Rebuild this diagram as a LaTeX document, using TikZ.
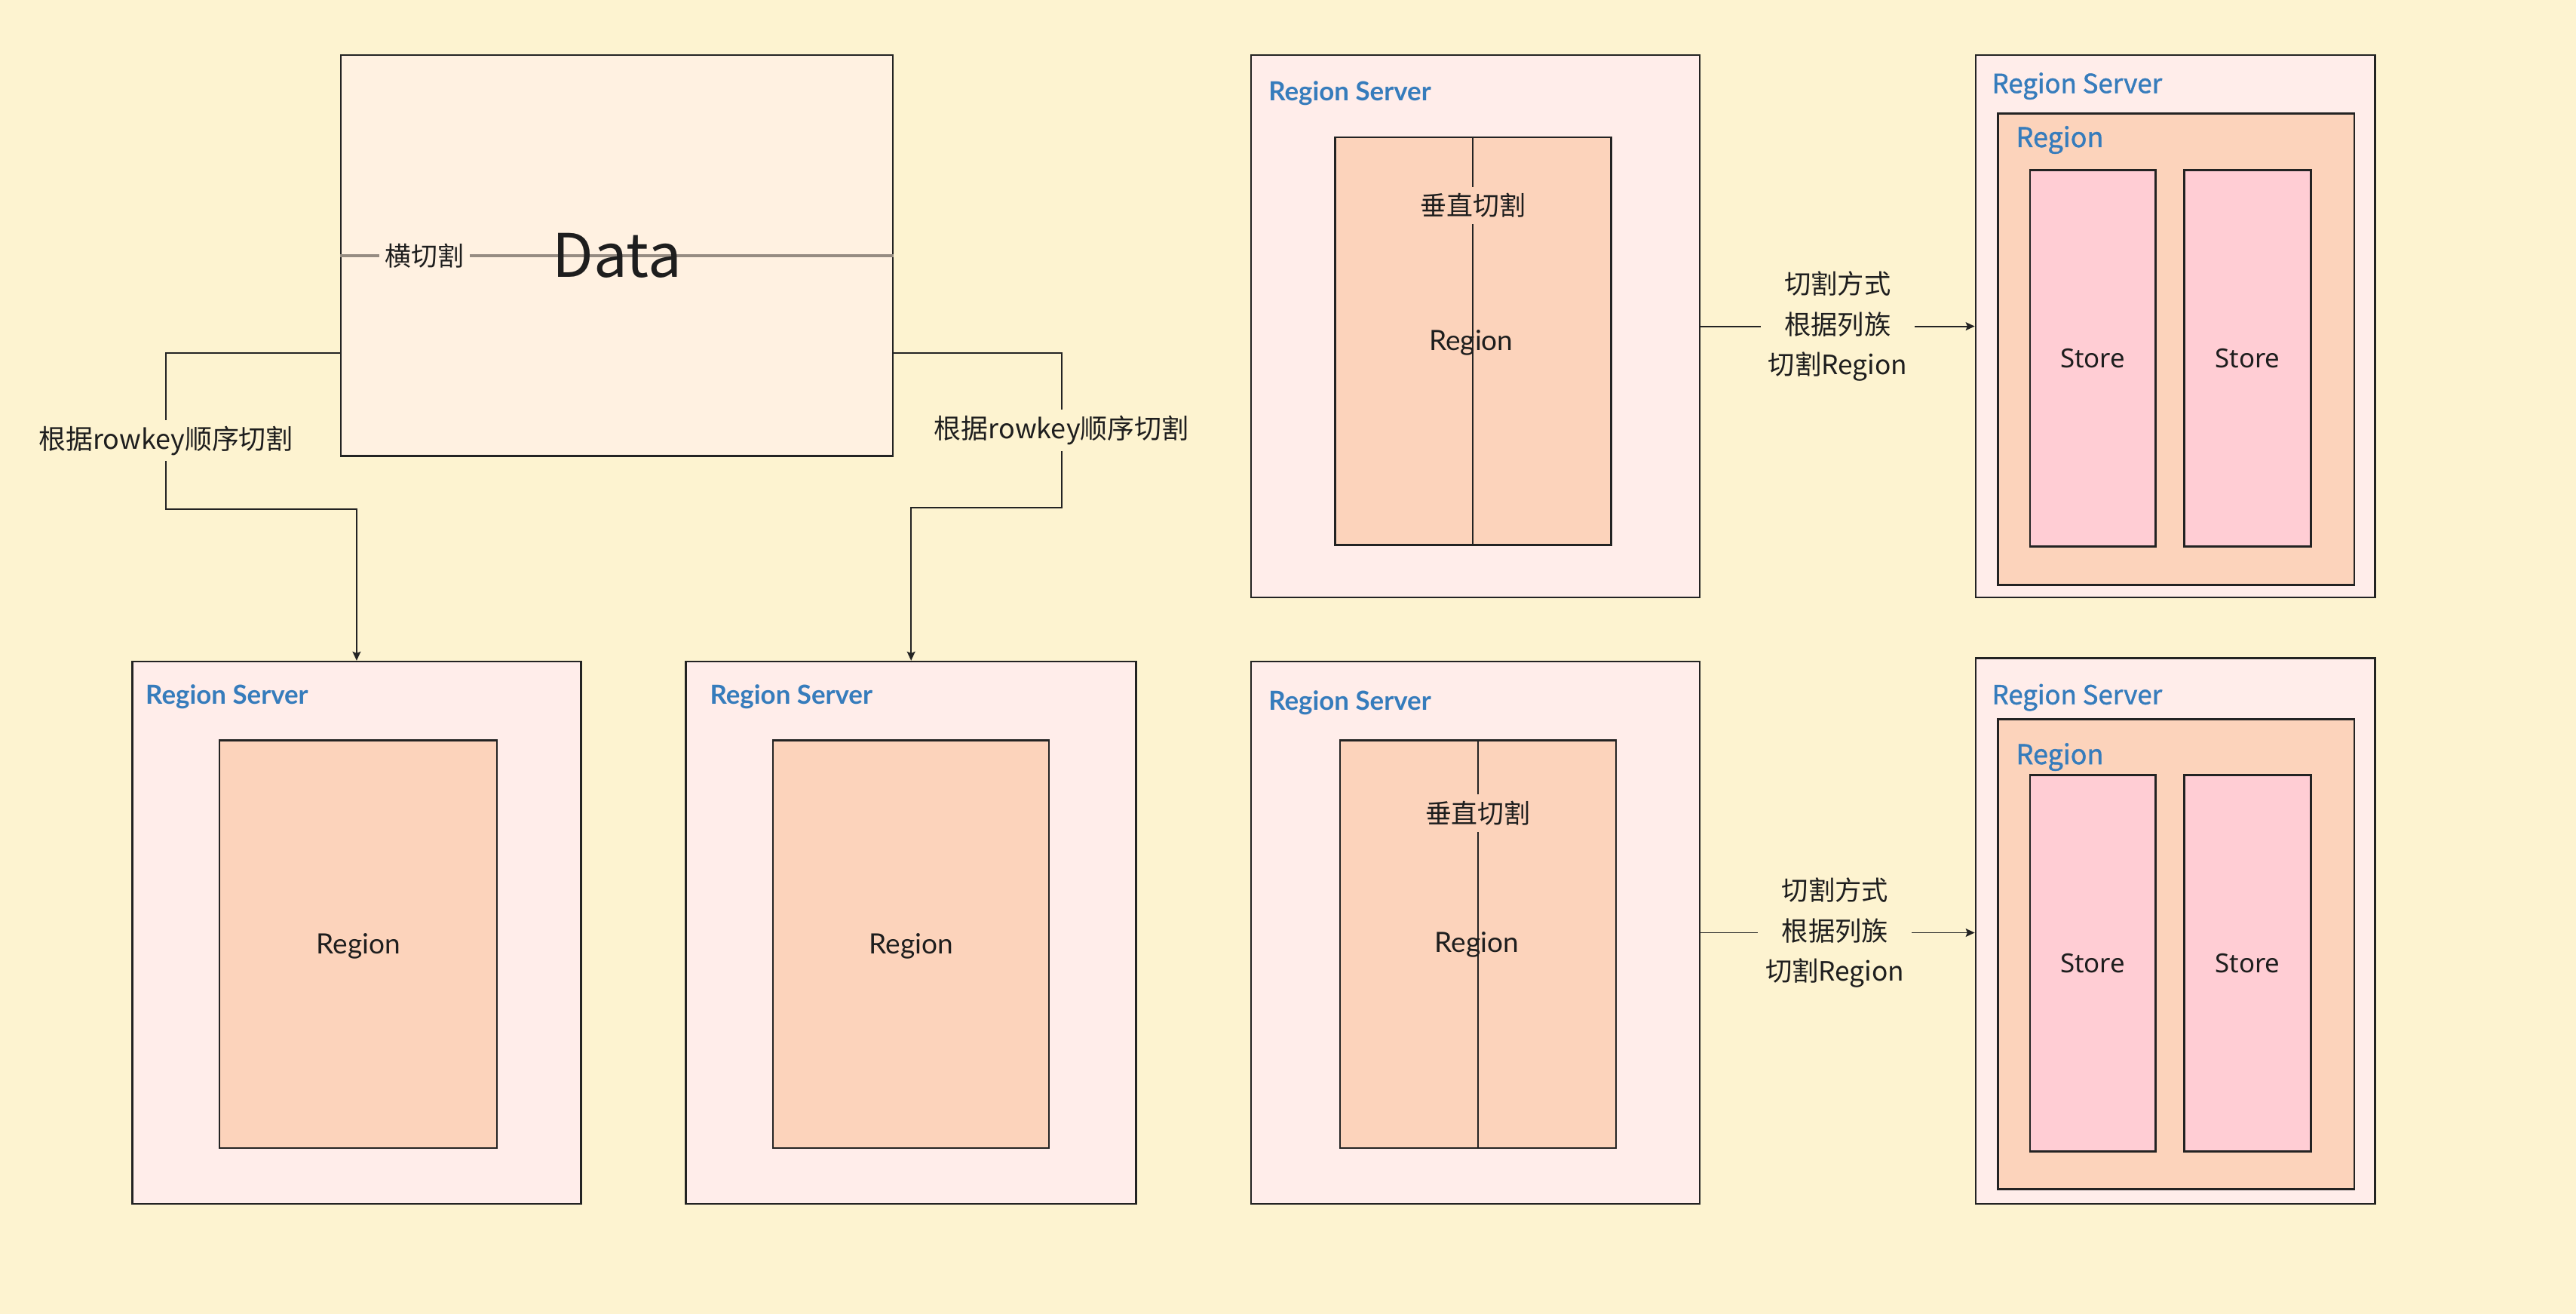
\documentclass[tikz,border=0pt]{standalone}
\usepackage{fontspec}
\setmainfont{Noto Sans CJK SC}
\newfontfamily\lato{Lato}
\newfontfamily\notosans{Noto Sans}
\newfontfamily\notob[FakeBold=1.2]{Noto Sans CJK SC}
\usetikzlibrary{arrows.meta}
\definecolor{bg}{RGB}{253,243,208}
\definecolor{datafill}{RGB}{255,241,225}
\definecolor{rsfill}{RGB}{255,237,234}
\definecolor{regfill}{RGB}{252,211,187}
\definecolor{storefill}{RGB}{255,205,212}
\definecolor{titleblue}{RGB}{54,124,188}
\definecolor{txt}{RGB}{30,30,30}
\definecolor{boxline}{RGB}{35,35,35}
\definecolor{splitgray}{RGB}{150,140,130}
\tikzset{
  box/.style={draw=boxline, line width=1.15pt, anchor=north west, inner sep=0pt},
  databox/.style={box, fill=datafill},
  rsbox/.style={box, fill=rsfill},
  regbox/.style={box, fill=regfill},
  storebox/.style={box, fill=storefill},
  conn/.style={draw=boxline, line width=0.85pt},
  arr/.style={conn, -{Stealth[length=5.5pt,width=5pt,inset=1pt]}},
  cjklbl/.style={text=txt, font=\fontsize{16.5}{20}\selectfont, inner sep=3.5pt},
  conlbl/.style={cjklbl, fill=bg},
  multilbl/.style={text=txt, fill=bg, align=center, font=\fontsize{16.2}{24.5}\selectfont, inner sep=4.5pt},
  ltitle/.style={anchor=base west, text=titleblue, inner sep=0pt, font=\lato\bfseries\fontsize{16}{19}\selectfont},
  ntitle/.style={anchor=base west, text=titleblue, inner sep=0pt, font=\notob\fontsize{16}{19}\selectfont},
  nregion/.style={anchor=base west, text=titleblue, inner sep=0pt, font=\notob\fontsize{16.5}{19}\selectfont},
  reglbl/.style={anchor=base, text=txt, inner sep=0pt, font=\lato\fontsize{17}{19}\selectfont},
  storelbl/.style={anchor=base, text=txt, inner sep=0pt, font=\notosans\fontsize{16}{19}\selectfont},
  vsplit/.style={draw=boxline, line width=0.85pt},
}
\begin{document}
\begin{tikzpicture}[x=1pt,y=-1pt]
\useasboundingbox (0,0) rectangle (1568,799.6);
\fill[bg] (0,0) rectangle (1568,799.6);

% ---------- Data box ----------
\node[databox, minimum width=336pt, minimum height=244pt] (data) at (207,33) {};
\draw[draw=splitgray, line width=2.2pt] (data.west) -- node[pos=0.152, fill=datafill, cjklbl, font=\fontsize{16}{20}\selectfont] (hq) {横切割} (data.east);
\node[text=txt, inner sep=0pt, font=\fontsize{36.5}{40}\selectfont] (datat) at (data.center) {Data};

% ---------- bottom-left region servers ----------
\node[rsbox, minimum width=273pt, minimum height=330pt] (rs1) at (80,402) {};
\node[regbox, minimum width=169pt, minimum height=248pt] (reg1) at (133,450) {};
\node[ltitle] (t1) at (88.5,428.4) {Region Server};
\node[reglbl] (r1) at ([yshift=-6pt]reg1.center) {Region};

\node[rsbox, minimum width=274pt, minimum height=330pt] (rs2) at (417,402) {};
\node[regbox, minimum width=168pt, minimum height=248pt] (reg2) at (470,450) {};
\node[ltitle] (t2) at (432,428.4) {Region Server};
\node[reglbl] (r2) at ([yshift=-6pt]reg2.center) {Region};

% ---------- connectors from Data ----------
\draw[arr] ([yshift=-59.3pt]data.west) -- ++(-106,0)
  -- node[conlbl, pos=0.56] (lc1) {根据rowkey顺序切割} ++(0,95) -| (rs1.north);
\draw[arr] ([yshift=-59.3pt]data.east) -- ++(102,0)
  -- node[conlbl, pos=0.5] (lc2) {根据rowkey顺序切割} ++(0,94) -| (rs2.north);

% ---------- vertical split servers ----------
\node[rsbox, minimum width=273pt, minimum height=330pt] (rs3) at (761,33) {};
\node[regbox, minimum width=168pt, minimum height=248pt] (reg3) at (812,83) {};
\node[ltitle] (t3) at (772,61.5) {Region Server};
\draw[vsplit] (reg3.north) -- node[pos=0.169, fill=regfill, cjklbl, font=\fontsize{16}{20}\selectfont, inner sep=4pt] (v3) {垂直切割} (reg3.south);
\node[reglbl] (r3) at (895.5,213.3) {Region};

\node[rsbox, minimum width=273pt, minimum height=330pt] (rs4) at (761,402) {};
\node[regbox, minimum width=168pt, minimum height=248pt] (reg4) at (815,450) {};
\node[ltitle] (t4) at (772,432) {Region Server};
\draw[vsplit] (reg4.north) -- node[pos=0.18, fill=regfill, cjklbl, font=\fontsize{16}{20}\selectfont, inner sep=4pt] (v4) {垂直切割} (reg4.south);
\node[reglbl] (r4) at (898.8,579.6) {Region};

% ---------- column-family servers ----------
\node[rsbox, minimum width=243pt, minimum height=330pt] (rs5) at (1202,33) {};
\node[regbox, minimum width=217pt, minimum height=287pt] (reg5) at (1215.5,68.5) {};
\node[ntitle] (t5) at (1212.3,56.6) {Region Server};
\node[nregion] (n5) at (1227,89.5) {Region};
\node[storebox, minimum width=76.5pt, minimum height=229pt] (s5a) at (1235,103) {};
\node[storebox, minimum width=77pt, minimum height=229pt] (s5b) at (1329,103) {};
\node[storelbl] at ([yshift=-5.8pt]s5a.center) {Store};
\node[storelbl] at ([yshift=-5.8pt]s5b.center) {Store};

\node[rsbox, minimum width=243pt, minimum height=332pt] (rs6) at (1202,400) {};
\node[regbox, minimum width=217pt, minimum height=286pt] (reg6) at (1215.5,437) {};
\node[ntitle] (t6) at (1212.3,428.6) {Region Server};
\node[nregion] (n6) at (1227,465) {Region};
\node[storebox, minimum width=76.5pt, minimum height=229pt] (s6a) at (1235,471) {};
\node[storebox, minimum width=77pt, minimum height=229pt] (s6b) at (1329,471) {};
\node[storelbl] at ([yshift=-5.8pt]s6a.center) {Store};
\node[storelbl] at ([yshift=-5.8pt]s6b.center) {Store};

% ---------- arrows to column-family servers ----------
\draw[arr] (rs3.east) -- node[multilbl] (m1) {切割方式\\根据列族\\切割Region} (rs5.west);
\draw[arr] (rs4.east) -- node[multilbl, pos=0.49] (m2) {切割方式\\根据列族\\切割Region} (rs4.east -| rs6.west);
\end{tikzpicture}
\end{document}
